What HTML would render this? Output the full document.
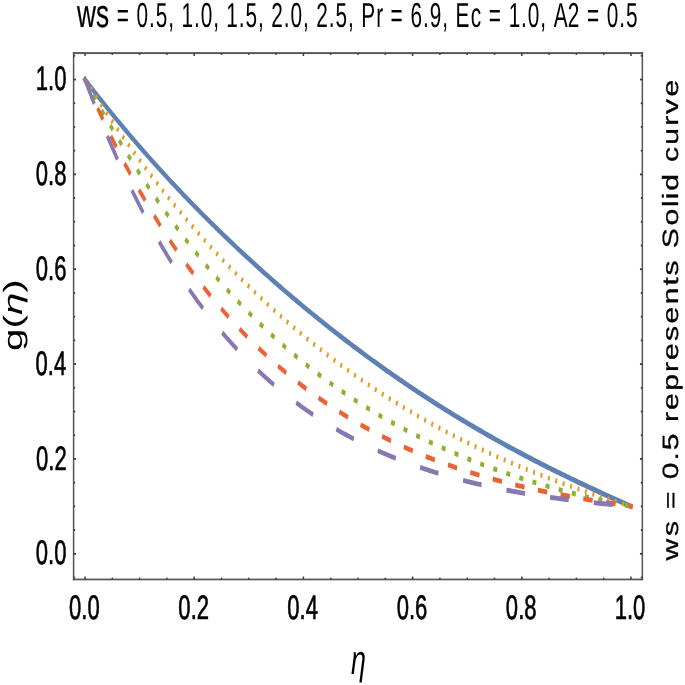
<!DOCTYPE html>
<html><head><meta charset="utf-8"><style>
html,body{margin:0;padding:0;background:#fff;}
body{width:685px;height:685px;overflow:hidden;}
svg{display:block;font-family:"Liberation Sans",sans-serif;filter:blur(0.4px);}
text{fill:#000;text-rendering:geometricPrecision;}
</style></head><body>
<svg width="685" height="685" viewBox="0 0 685 685">
<rect width="685" height="685" fill="#fff"/>
<g transform="scale(1,1.4956)">
<path d="M85.00,53.16 L86.36,54.35 87.73,55.55 89.09,56.74 90.46,57.92 91.83,59.11 93.19,60.28 94.56,61.46 95.92,62.63 97.28,63.79 98.65,64.95 100.02,66.11 101.38,67.26 102.75,68.41 104.11,69.56 105.47,70.70 106.84,71.84 108.20,72.97 109.57,74.10 110.94,75.23 112.30,76.35 113.66,77.47 115.03,78.58 116.40,79.69 117.76,80.80 119.12,81.90 120.49,83.00 121.86,84.10 123.22,85.19 124.58,86.28 125.95,87.37 127.31,88.45 128.68,89.53 130.05,90.61 131.41,91.68 132.78,92.75 134.14,93.81 135.50,94.88 136.87,95.93 138.24,96.99 139.60,98.04 140.97,99.09 142.33,100.14 143.69,101.18 145.06,102.22 146.43,103.25 147.79,104.29 149.16,105.32 150.52,106.34 151.88,107.37 153.25,108.39 154.62,109.40 155.98,110.42 157.34,111.43 158.71,112.44 160.07,113.44 161.44,114.44 162.81,115.44 164.17,116.44 165.53,117.43 166.90,118.42 168.26,119.41 169.63,120.40 171.00,121.38 172.36,122.36 173.73,123.33 175.09,124.31 176.46,125.28 177.82,126.24 179.19,127.21 180.55,128.17 181.91,129.13 183.28,130.09 184.64,131.04 186.01,131.99 187.38,132.94 188.74,133.89 190.11,134.83 191.47,135.77 192.84,136.71 194.20,137.64 195.56,138.58 196.93,139.51 198.30,140.43 199.66,141.36 201.02,142.28 202.39,143.20 203.75,144.12 205.12,145.03 206.49,145.95 207.85,146.86 209.22,147.77 210.58,148.67 211.94,149.57 213.31,150.47 214.68,151.37 216.04,152.27 217.41,153.16 218.77,154.05 220.13,154.94 221.50,155.82 222.87,156.71 224.23,157.59 225.59,158.47 226.96,159.34 228.33,160.22 229.69,161.09 231.06,161.96 232.42,162.83 233.79,163.69 235.15,164.56 236.52,165.42 237.88,166.27 239.25,167.13 240.61,167.98 241.98,168.84 243.34,169.69 244.70,170.53 246.07,171.38 247.44,172.22 248.80,173.06 250.16,173.90 251.53,174.74 252.90,175.57 254.26,176.40 255.62,177.23 256.99,178.06 258.36,178.89 259.72,179.71 261.09,180.53 262.45,181.35 263.81,182.17 265.18,182.98 266.55,183.80 267.91,184.61 269.27,185.42 270.64,186.22 272.00,187.03 273.37,187.83 274.74,188.63 276.10,189.43 277.46,190.23 278.83,191.02 280.19,191.81 281.56,192.60 282.92,193.39 284.29,194.18 285.65,194.96 287.02,195.75 288.38,196.53 289.75,197.30 291.12,198.08 292.48,198.86 293.85,199.63 295.21,200.40 296.58,201.17 297.94,201.93 299.31,202.70 300.67,203.46 302.04,204.22 303.40,204.98 304.76,205.74 306.13,206.49 307.50,207.25 308.86,208.00 310.23,208.75 311.59,209.50 312.95,210.24 314.32,210.98 315.69,211.73 317.05,212.47 318.41,213.20 319.78,213.94 321.14,214.67 322.51,215.41 323.88,216.14 325.24,216.86 326.61,217.59 327.97,218.32 329.34,219.04 330.70,219.76 332.06,220.48 333.43,221.20 334.80,221.91 336.16,222.62 337.52,223.34 338.89,224.05 340.25,224.75 341.62,225.46 342.99,226.16 344.35,226.87 345.72,227.57 347.08,228.27 348.44,228.96 349.81,229.66 351.18,230.35 352.54,231.04 353.90,231.73 355.27,232.42 356.63,233.11 358.00,233.79 359.37,234.47 360.73,235.15 362.10,235.83 363.46,236.51 364.82,237.18 366.19,237.86 367.55,238.53 368.92,239.20 370.28,239.87 371.65,240.53 373.01,241.20 374.38,241.86 375.75,242.52 377.11,243.18 378.47,243.84 379.84,244.49 381.20,245.15 382.57,245.80 383.94,246.45 385.30,247.10 386.67,247.74 388.03,248.39 389.39,249.03 390.76,249.67 392.12,250.31 393.49,250.95 394.86,251.59 396.22,252.22 397.58,252.85 398.95,253.48 400.31,254.11 401.68,254.74 403.05,255.37 404.41,255.99 405.78,256.61 407.14,257.23 408.50,257.85 409.87,258.47 411.24,259.08 412.60,259.70 413.97,260.31 415.33,260.92 416.70,261.52 418.06,262.13 419.43,262.74 420.79,263.34 422.16,263.94 423.52,264.54 424.89,265.14 426.25,265.73 427.62,266.33 428.98,266.92 430.35,267.51 431.71,268.10 433.08,268.69 434.44,269.27 435.80,269.86 437.17,270.44 438.53,271.02 439.90,271.60 441.26,272.18 442.63,272.75 444.00,273.33 445.36,273.90 446.72,274.47 448.09,275.04 449.45,275.61 450.82,276.17 452.19,276.74 453.55,277.30 454.92,277.86 456.28,278.42 457.64,278.98 459.01,279.53 460.38,280.09 461.74,280.64 463.11,281.19 464.47,281.74 465.83,282.29 467.20,282.84 468.56,283.38 469.93,283.92 471.30,284.46 472.66,285.00 474.03,285.54 475.39,286.08 476.75,286.61 478.12,287.15 479.49,287.68 480.85,288.21 482.22,288.74 483.58,289.26 484.95,289.79 486.31,290.31 487.68,290.84 489.04,291.36 490.41,291.88 491.77,292.39 493.14,292.91 494.50,293.42 495.87,293.94 497.23,294.45 498.60,294.96 499.96,295.47 501.33,295.97 502.69,296.48 504.06,296.98 505.42,297.49 506.78,297.99 508.15,298.49 509.51,298.99 510.88,299.48 512.25,299.98 513.61,300.47 514.97,300.96 516.34,301.46 517.70,301.94 519.07,302.43 520.43,302.92 521.80,303.41 523.16,303.89 524.53,304.37 525.89,304.85 527.26,305.33 528.62,305.81 529.99,306.29 531.36,306.76 532.72,307.24 534.09,307.71 535.45,308.18 536.82,308.65 538.18,309.12 539.55,309.59 540.91,310.06 542.28,310.52 543.64,310.99 545.00,311.45 546.37,311.91 547.74,312.37 549.10,312.83 550.47,313.29 551.83,313.74 553.20,314.20 554.56,314.65 555.92,315.11 557.29,315.56 558.65,316.01 560.02,316.46 561.38,316.91 562.75,317.35 564.12,317.80 565.48,318.25 566.85,318.69 568.21,319.13 569.58,319.57 570.94,320.02 572.31,320.46 573.67,320.89 575.03,321.33 576.40,321.77 577.76,322.20 579.13,322.64 580.50,323.07 581.86,323.50 583.22,323.94 584.59,324.37 585.95,324.80 587.32,325.23 588.68,325.65 590.05,326.08 591.41,326.51 592.78,326.93 594.14,327.36 595.51,327.78 596.88,328.21 598.24,328.63 599.61,329.05 600.97,329.47 602.34,329.89 603.70,330.31 605.07,330.73 606.43,331.15 607.79,331.56 609.16,331.98 610.52,332.40 611.89,332.81 613.25,333.23 614.62,333.64 615.99,334.06 617.35,334.47 618.72,334.88 620.08,335.29 621.45,335.70 622.81,336.12 624.18,336.53 625.54,336.94 626.90,337.35 628.27,337.76 629.63,338.16 631.00,338.57" fill="none" stroke="#5E81B5" stroke-width="3.50" stroke-linecap="square"/>
<path d="M83.94,52.02 L85.25,53.42 86.56,54.82 87.86,56.21 89.17,57.60 90.47,58.98 91.78,60.35 93.09,61.72 94.39,63.08 95.70,64.44 97.01,65.79 98.31,67.14 99.62,68.48 100.92,69.82 102.23,71.15 103.54,72.47 104.84,73.79 106.15,75.11 107.45,76.41 108.76,77.72 110.07,79.02 111.37,80.31 112.68,81.60 113.98,82.88 115.29,84.16 116.60,85.43 117.90,86.70 119.21,87.97 120.52,89.22 121.82,90.48 123.13,91.72 124.43,92.97 125.74,94.21 127.05,95.44 128.35,96.67 129.66,97.89 130.96,99.11 132.27,100.32 133.58,101.53 134.88,102.73 136.19,103.93 137.50,105.13 138.80,106.32 140.11,107.50 141.41,108.68 142.72,109.86 144.03,111.03 145.33,112.20 146.64,113.36 147.94,114.52 149.25,115.67 150.56,116.82 151.86,117.96 153.17,119.10 154.47,120.24 155.78,121.37 157.09,122.49 158.39,123.61 159.70,124.73 161.01,125.84 162.31,126.95 163.62,128.05 164.92,129.15 166.23,130.25 167.54,131.34 168.84,132.43 170.15,133.51 171.45,134.59 172.76,135.66 174.07,136.73 175.37,137.80 176.68,138.86 177.98,139.92 179.29,140.97 180.60,142.02 181.90,143.06 183.21,144.10 184.52,145.14 185.82,146.17 187.13,147.20 188.43,148.23 189.74,149.25 191.05,150.26 192.35,151.28 193.66,152.28 194.96,153.29 196.27,154.29 197.58,155.29 198.88,156.28 200.19,157.27 201.50,158.26 202.80,159.24 204.11,160.21 205.41,161.19 206.72,162.16 208.03,163.13 209.33,164.09 210.64,165.05 211.94,166.00 213.25,166.95 214.56,167.90 215.86,168.85 217.17,169.79 218.47,170.72 219.78,171.66 221.09,172.59 222.39,173.51 223.70,174.43 225.01,175.35 226.31,176.27 227.62,177.18 228.92,178.09 230.23,178.99 231.54,179.89 232.84,180.79 234.15,181.69 235.45,182.58 236.76,183.46 238.07,184.35 239.37,185.23 240.68,186.10 241.99,186.98 243.29,187.85 244.60,188.71 245.90,189.58 247.21,190.44 248.52,191.29 249.82,192.15 251.13,193.00 252.43,193.84 253.74,194.69 255.05,195.53 256.35,196.37 257.66,197.20 258.96,198.03 260.27,198.86 261.58,199.68 262.88,200.50 264.19,201.32 265.50,202.13 266.80,202.94 268.11,203.75 269.41,204.56 270.72,205.36 272.03,206.16 273.33,206.95 274.64,207.75 275.94,208.54 277.25,209.32 278.56,210.11 279.86,210.89 281.17,211.66 282.48,212.44 283.78,213.21 285.09,213.98 286.39,214.74 287.70,215.50 289.01,216.26 290.31,217.02 291.62,217.77 292.92,218.52 294.23,219.27 295.54,220.02 296.84,220.76 298.15,221.50 299.45,222.23 300.76,222.96 302.07,223.69 303.37,224.42 304.68,225.15 305.99,225.87 307.29,226.59 308.60,227.30 309.90,228.01 311.21,228.72 312.52,229.43 313.82,230.14 315.13,230.84 316.43,231.54 317.74,232.23 319.05,232.93 320.35,233.62 321.66,234.31 322.97,234.99 324.27,235.67 325.58,236.35 326.88,237.03 328.19,237.71 329.50,238.38 330.80,239.05 332.11,239.71 333.41,240.38 334.72,241.04 336.03,241.70 337.33,242.35 338.64,243.01 339.94,243.66 341.25,244.31 342.56,244.95 343.86,245.60 345.17,246.24 346.48,246.87 347.78,247.51 349.09,248.14 350.39,248.77 351.70,249.40 353.01,250.03 354.31,250.65 355.62,251.27 356.92,251.89 358.23,252.50 359.54,253.12 360.84,253.73 362.15,254.33 363.46,254.94 364.76,255.54 366.07,256.14 367.37,256.74 368.68,257.34 369.99,257.93 371.29,258.52 372.60,259.11 373.90,259.70 375.21,260.28 376.52,260.86 377.82,261.44 379.13,262.02 380.43,262.59 381.74,263.17 383.05,263.74 384.35,264.30 385.66,264.87 386.97,265.43 388.27,265.99 389.58,266.55 390.88,267.11 392.19,267.66 393.50,268.21 394.80,268.76 396.11,269.31 397.41,269.85 398.72,270.39 400.03,270.93 401.33,271.47 402.64,272.01 403.95,272.54 405.25,273.07 406.56,273.60 407.86,274.13 409.17,274.65 410.48,275.18 411.78,275.70 413.09,276.21 414.39,276.73 415.70,277.24 417.01,277.76 418.31,278.27 419.62,278.77 420.92,279.28 422.23,279.78 423.54,280.28 424.84,280.78 426.15,281.28 427.46,281.78 428.76,282.27 430.07,282.76 431.37,283.25 432.68,283.74 433.99,284.22 435.29,284.70 436.60,285.18 437.90,285.66 439.21,286.14 440.52,286.61 441.82,287.09 443.13,287.56 444.44,288.03 445.74,288.49 447.05,288.96 448.35,289.42 449.66,289.88 450.97,290.34 452.27,290.80 453.58,291.25 454.88,291.71 456.19,292.16 457.50,292.61 458.80,293.05 460.11,293.50 461.41,293.94 462.72,294.38 464.03,294.82 465.33,295.26 466.64,295.70 467.95,296.13 469.25,296.57 470.56,297.00 471.86,297.42 473.17,297.85 474.48,298.28 475.78,298.70 477.09,299.12 478.39,299.54 479.70,299.96 481.01,300.38 482.31,300.79 483.62,301.20 484.93,301.61 486.23,302.02 487.54,302.43 488.84,302.84 490.15,303.24 491.46,303.64 492.76,304.04 494.07,304.44 495.37,304.84 496.68,305.24 497.99,305.63 499.29,306.02 500.60,306.41 501.90,306.80 503.21,307.19 504.52,307.57 505.82,307.96 507.13,308.34 508.44,308.72 509.74,309.10 511.05,309.48 512.35,309.85 513.66,310.23 514.97,310.60 516.27,310.97 517.58,311.34 518.88,311.71 520.19,312.08 521.50,312.44 522.80,312.81 524.11,313.17 525.42,313.53 526.72,313.89 528.03,314.25 529.33,314.60 530.64,314.96 531.95,315.31 533.25,315.66 534.56,316.01 535.86,316.36 537.17,316.71 538.48,317.05 539.78,317.40 541.09,317.74 542.39,318.08 543.70,318.43 545.01,318.76 546.31,319.10 547.62,319.44 548.93,319.77 550.23,320.11 551.54,320.44 552.84,320.77 554.15,321.10 555.46,321.43 556.76,321.76 558.07,322.08 559.37,322.41 560.68,322.73 561.99,323.05 563.29,323.37 564.60,323.69 565.91,324.01 567.21,324.33 568.52,324.65 569.82,324.96 571.13,325.27 572.44,325.59 573.74,325.90 575.05,326.21 576.35,326.52 577.66,326.83 578.97,327.13 580.27,327.44 581.58,327.74 582.88,328.05 584.19,328.35 585.50,328.65 586.80,328.95 588.11,329.25 589.42,329.55 590.72,329.85 592.03,330.14 593.33,330.44 594.64,330.73 595.95,331.02 597.25,331.32 598.56,331.61 599.86,331.90 601.17,332.19 602.48,332.48 603.78,332.76 605.09,333.05 606.40,333.34 607.70,333.62 609.01,333.91 610.31,334.19 611.62,334.47 612.93,334.75 614.23,335.03 615.54,335.31 616.84,335.59 618.15,335.87 619.46,336.15 620.76,336.43 622.07,336.70 623.37,336.98 624.68,337.25 625.99,337.53 627.29,337.80 628.60,338.07 629.91,338.35 631.21,338.62 632.52,338.89" fill="none" stroke="#E19C24" stroke-width="3.25" stroke-dasharray="3.55 5.63 2.00 5.63 2.00 5.63 2.00 5.63 2.00 5.63 2.00 5.63 2.00 5.63 2.00 5.63 2.00 5.63 2.00 5.63 2.00 5.63 2.00 5.63 2.00 5.63 2.00 5.63 2.00 5.63 2.00 5.63 2.00 5.63 2.00 5.63 2.00 5.63 2.00 5.63 2.00 5.63 2.00 5.63 2.00 5.63 2.00 5.63 2.00 5.63 2.00 5.63 2.00 5.63 2.00 5.63 2.00 5.63 2.00 5.63 2.00 5.63 2.00 5.63 2.00 5.63 2.00 5.63 2.00 5.63 2.00 5.63 2.00 5.63 2.00 5.63 2.00 5.63 2.00 5.63 2.00 5.63 2.00 5.63 2.00 5.63 2.00 5.63 2.00 5.63 2.00 5.63 2.00 5.63 2.00 5.63 2.00 5.63 2.00 5.63 2.00 5.63 2.00 5.63 2.00 5.63 2.00 5.63 2.00 5.63 2.00 5.63 2.00 5.63 2.00 5.63 2.00 5.63 2.00 5.63 2.00 5.63 2.00 5.63 2.00 5.63 2.00 5.63 2.00 5.63 2.00 5.63 2.00 5.63 2.00 5.63 2.00 5.63 2.00 5.63 2.00 5.63 2.00 5.63 2.00 5.63 2.00 5.63 2.00 5.63 2.00 5.63 2.00 5.63 2.00 5.63 2.00 5.63 2.00 5.63 2.00 5.63 2.00 5.63 2.93 50.00"/>
<path d="M84.04,51.94 L85.35,53.60 86.65,55.25 87.96,56.89 89.26,58.52 90.57,60.15 91.88,61.77 93.18,63.38 94.49,64.99 95.79,66.58 97.10,68.17 98.41,69.76 99.71,71.33 101.02,72.90 102.32,74.46 103.63,76.02 104.94,77.56 106.24,79.10 107.55,80.64 108.85,82.16 110.16,83.68 111.47,85.19 112.77,86.69 114.08,88.19 115.38,89.68 116.69,91.16 118.00,92.64 119.30,94.11 120.61,95.57 121.91,97.02 123.22,98.47 124.53,99.91 125.83,101.35 127.14,102.78 128.44,104.20 129.75,105.61 131.06,107.02 132.36,108.42 133.67,109.81 134.97,111.20 136.28,112.58 137.58,113.95 138.89,115.32 140.20,116.68 141.50,118.04 142.81,119.38 144.11,120.72 145.42,122.06 146.73,123.39 148.03,124.71 149.34,126.02 150.64,127.33 151.95,128.63 153.26,129.93 154.56,131.22 155.87,132.50 157.17,133.78 158.48,135.05 159.79,136.32 161.09,137.57 162.40,138.83 163.70,140.07 165.01,141.31 166.32,142.55 167.62,143.77 168.93,145.00 170.23,146.21 171.54,147.42 172.85,148.62 174.15,149.82 175.46,151.01 176.76,152.20 178.07,153.38 179.37,154.55 180.68,155.72 181.99,156.88 183.29,158.04 184.60,159.19 185.90,160.33 187.21,161.47 188.52,162.60 189.82,163.73 191.13,164.85 192.43,165.97 193.74,167.08 195.05,168.18 196.35,169.28 197.66,170.37 198.96,171.46 200.27,172.54 201.58,173.62 202.88,174.69 204.19,175.76 205.49,176.82 206.80,177.87 208.11,178.92 209.41,179.96 210.72,181.00 212.02,182.04 213.33,183.06 214.64,184.09 215.94,185.10 217.25,186.12 218.55,187.12 219.86,188.12 221.17,189.12 222.47,190.11 223.78,191.10 225.08,192.08 226.39,193.05 227.69,194.03 229.00,194.99 230.31,195.95 231.61,196.91 232.92,197.86 234.22,198.80 235.53,199.74 236.84,200.68 238.14,201.61 239.45,202.54 240.75,203.46 242.06,204.37 243.37,205.28 244.67,206.19 245.98,207.09 247.28,207.99 248.59,208.88 249.90,209.77 251.20,210.65 252.51,211.53 253.81,212.40 255.12,213.27 256.43,214.14 257.73,215.00 259.04,215.85 260.34,216.70 261.65,217.55 262.96,218.39 264.26,219.23 265.57,220.06 266.87,220.89 268.18,221.71 269.49,222.53 270.79,223.34 272.10,224.15 273.40,224.96 274.71,225.76 276.01,226.56 277.32,227.35 278.63,228.14 279.93,228.92 281.24,229.70 282.54,230.48 283.85,231.25 285.16,232.02 286.46,232.78 287.77,233.54 289.07,234.30 290.38,235.05 291.69,235.80 292.99,236.54 294.30,237.28 295.60,238.01 296.91,238.75 298.22,239.47 299.52,240.20 300.83,240.91 302.13,241.63 303.44,242.34 304.75,243.05 306.05,243.75 307.36,244.45 308.66,245.15 309.97,245.84 311.28,246.53 312.58,247.21 313.89,247.89 315.19,248.57 316.50,249.24 317.81,249.91 319.11,250.58 320.42,251.24 321.72,251.90 323.03,252.56 324.33,253.21 325.64,253.86 326.95,254.50 328.25,255.14 329.56,255.78 330.86,256.41 332.17,257.04 333.48,257.67 334.78,258.29 336.09,258.91 337.39,259.53 338.70,260.14 340.01,260.75 341.31,261.36 342.62,261.96 343.92,262.56 345.23,263.16 346.54,263.75 347.84,264.34 349.15,264.93 350.45,265.51 351.76,266.09 353.07,266.67 354.37,267.25 355.68,267.82 356.98,268.38 358.29,268.95 359.60,269.51 360.90,270.07 362.21,270.62 363.51,271.17 364.82,271.72 366.12,272.27 367.43,272.81 368.74,273.35 370.04,273.89 371.35,274.42 372.65,274.96 373.96,275.48 375.27,276.01 376.57,276.53 377.88,277.05 379.18,277.57 380.49,278.08 381.80,278.59 383.10,279.10 384.41,279.61 385.71,280.11 387.02,280.61 388.33,281.11 389.63,281.60 390.94,282.09 392.24,282.58 393.55,283.07 394.86,283.55 396.16,284.03 397.47,284.51 398.77,284.98 400.08,285.46 401.39,285.93 402.69,286.39 404.00,286.86 405.30,287.32 406.61,287.78 407.92,288.24 409.22,288.70 410.53,289.15 411.83,289.60 413.14,290.05 414.44,290.49 415.75,290.93 417.06,291.37 418.36,291.81 419.67,292.25 420.97,292.68 422.28,293.11 423.59,293.54 424.89,293.96 426.20,294.39 427.50,294.81 428.81,295.23 430.12,295.64 431.42,296.06 432.73,296.47 434.03,296.88 435.34,297.29 436.65,297.69 437.95,298.10 439.26,298.50 440.56,298.90 441.87,299.29 443.18,299.69 444.48,300.08 445.79,300.47 447.09,300.86 448.40,301.24 449.71,301.63 451.01,302.01 452.32,302.39 453.62,302.77 454.93,303.14 456.24,303.52 457.54,303.89 458.85,304.26 460.15,304.62 461.46,304.99 462.76,305.35 464.07,305.71 465.38,306.07 466.68,306.43 467.99,306.79 469.29,307.14 470.60,307.49 471.91,307.84 473.21,308.19 474.52,308.54 475.82,308.88 477.13,309.22 478.44,309.56 479.74,309.90 481.05,310.24 482.35,310.57 483.66,310.91 484.97,311.24 486.27,311.57 487.58,311.89 488.88,312.22 490.19,312.54 491.50,312.87 492.80,313.19 494.11,313.51 495.41,313.82 496.72,314.14 498.03,314.45 499.33,314.76 500.64,315.08 501.94,315.38 503.25,315.69 504.56,316.00 505.86,316.30 507.17,316.60 508.47,316.90 509.78,317.20 511.08,317.50 512.39,317.79 513.70,318.09 515.00,318.38 516.31,318.67 517.61,318.96 518.92,319.25 520.23,319.53 521.53,319.82 522.84,320.10 524.14,320.38 525.45,320.66 526.76,320.94 528.06,321.21 529.37,321.49 530.67,321.76 531.98,322.04 533.29,322.31 534.59,322.57 535.90,322.84 537.20,323.11 538.51,323.37 539.82,323.64 541.12,323.90 542.43,324.16 543.73,324.42 545.04,324.67 546.35,324.93 547.65,325.18 548.96,325.44 550.26,325.69 551.57,325.94 552.87,326.19 554.18,326.43 555.49,326.68 556.79,326.92 558.10,327.17 559.40,327.41 560.71,327.65 562.02,327.89 563.32,328.12 564.63,328.36 565.93,328.59 567.24,328.83 568.55,329.06 569.85,329.29 571.16,329.52 572.46,329.75 573.77,329.97 575.08,330.20 576.38,330.42 577.69,330.64 578.99,330.86 580.30,331.08 581.61,331.30 582.91,331.52 584.22,331.73 585.52,331.95 586.83,332.16 588.14,332.37 589.44,332.58 590.75,332.79 592.05,333.00 593.36,333.20 594.67,333.41 595.97,333.61 597.28,333.81 598.58,334.01 599.89,334.21 601.19,334.41 602.50,334.61 603.81,334.80 605.11,335.00 606.42,335.19 607.72,335.38 609.03,335.57 610.34,335.76 611.64,335.95 612.95,336.14 614.25,336.32 615.56,336.50 616.87,336.69 618.17,336.87 619.48,337.05 620.78,337.22 622.09,337.40 623.40,337.58 624.70,337.75 626.01,337.92 627.31,338.10 628.62,338.27 629.93,338.44 631.23,338.60 632.54,338.77" fill="none" stroke="#8FB032" stroke-width="3.25" stroke-dasharray="5.15 9.37 4.00 9.37 4.00 9.37 4.00 9.37 4.00 9.37 4.00 9.37 4.00 9.37 4.00 9.37 4.00 9.37 4.00 9.37 4.00 9.37 4.00 9.37 4.00 9.37 4.00 9.37 4.00 9.37 4.00 9.37 4.00 9.37 4.00 9.37 4.00 9.37 4.00 9.37 4.00 9.37 4.00 9.37 4.00 9.37 4.00 9.37 4.00 9.37 4.00 9.37 4.00 9.37 4.00 9.37 4.00 9.37 4.00 9.37 4.00 9.37 4.00 9.37 4.00 9.37 4.00 9.37 4.00 9.37 4.00 9.37 4.00 9.37 4.00 9.37 4.00 9.37 4.00 9.37 4.00 9.37 4.00 9.37 4.00 9.37 4.00 9.37 4.00 9.37 4.00 9.37 4.00 9.37 4.00 54.10"/>
<path d="M84.17,51.85 L85.47,53.89 86.78,55.93 88.08,57.94 89.39,59.95 90.69,61.94 92.00,63.92 93.31,65.88 94.61,67.83 95.92,69.77 97.22,71.69 98.53,73.61 99.83,75.51 101.14,77.39 102.45,79.27 103.75,81.13 105.06,82.97 106.36,84.81 107.67,86.63 108.97,88.45 110.28,90.25 111.59,92.03 112.89,93.81 114.20,95.57 115.50,97.32 116.81,99.06 118.11,100.79 119.42,102.51 120.73,104.21 122.03,105.90 123.34,107.59 124.64,109.26 125.95,110.92 127.25,112.56 128.56,114.20 129.86,115.83 131.17,117.44 132.48,119.05 133.78,120.64 135.09,122.22 136.39,123.80 137.70,125.36 139.00,126.91 140.31,128.45 141.62,129.98 142.92,131.50 144.23,133.01 145.53,134.51 146.84,136.00 148.14,137.48 149.45,138.95 150.76,140.41 152.06,141.86 153.37,143.30 154.67,144.73 155.98,146.15 157.28,147.56 158.59,148.97 159.89,150.36 161.20,151.74 162.51,153.12 163.81,154.48 165.12,155.84 166.42,157.18 167.73,158.52 169.03,159.85 170.34,161.17 171.65,162.48 172.95,163.78 174.26,165.08 175.56,166.36 176.87,167.64 178.17,168.91 179.48,170.17 180.79,171.42 182.09,172.66 183.40,173.90 184.70,175.12 186.01,176.34 187.31,177.55 188.62,178.75 189.92,179.95 191.23,181.13 192.54,182.31 193.84,183.48 195.15,184.64 196.45,185.80 197.76,186.94 199.06,188.08 200.37,189.21 201.68,190.34 202.98,191.46 204.29,192.57 205.59,193.67 206.90,194.76 208.20,195.85 209.51,196.93 210.82,198.00 212.12,199.07 213.43,200.13 214.73,201.18 216.04,202.22 217.34,203.26 218.65,204.29 219.95,205.32 221.26,206.33 222.57,207.34 223.87,208.35 225.18,209.35 226.48,210.34 227.79,211.32 229.09,212.30 230.40,213.27 231.71,214.23 233.01,215.19 234.32,216.15 235.62,217.09 236.93,218.03 238.23,218.96 239.54,219.89 240.85,220.81 242.15,221.73 243.46,222.64 244.76,223.54 246.07,224.44 247.37,225.33 248.68,226.21 249.98,227.09 251.29,227.97 252.60,228.83 253.90,229.70 255.21,230.55 256.51,231.40 257.82,232.25 259.12,233.09 260.43,233.92 261.74,234.75 263.04,235.57 264.35,236.39 265.65,237.20 266.96,238.01 268.26,238.81 269.57,239.61 270.88,240.40 272.18,241.19 273.49,241.97 274.79,242.74 276.10,243.51 277.40,244.28 278.71,245.04 280.01,245.80 281.32,246.55 282.63,247.29 283.93,248.03 285.24,248.77 286.54,249.50 287.85,250.23 289.15,250.95 290.46,251.66 291.77,252.38 293.07,253.08 294.38,253.79 295.68,254.49 296.99,255.18 298.29,255.87 299.60,256.55 300.91,257.23 302.21,257.91 303.52,258.58 304.82,259.25 306.13,259.91 307.43,260.57 308.74,261.22 310.05,261.87 311.35,262.51 312.66,263.15 313.96,263.79 315.27,264.42 316.57,265.05 317.88,265.68 319.18,266.30 320.49,266.91 321.80,267.52 323.10,268.13 324.41,268.74 325.71,269.34 327.02,269.93 328.32,270.52 329.63,271.11 330.94,271.70 332.24,272.28 333.55,272.85 334.85,273.42 336.16,273.99 337.46,274.56 338.77,275.12 340.08,275.68 341.38,276.23 342.69,276.78 343.99,277.33 345.30,277.87 346.60,278.41 347.91,278.95 349.21,279.48 350.52,280.01 351.83,280.53 353.13,281.05 354.44,281.57 355.74,282.09 357.05,282.60 358.35,283.11 359.66,283.61 360.97,284.11 362.27,284.61 363.58,285.10 364.88,285.59 366.19,286.08 367.49,286.57 368.80,287.05 370.11,287.53 371.41,288.00 372.72,288.47 374.02,288.94 375.33,289.41 376.63,289.87 377.94,290.33 379.24,290.78 380.55,291.24 381.86,291.68 383.16,292.13 384.47,292.57 385.77,293.02 387.08,293.45 388.38,293.89 389.69,294.32 391.00,294.75 392.30,295.17 393.61,295.60 394.91,296.02 396.22,296.43 397.52,296.85 398.83,297.26 400.14,297.67 401.44,298.07 402.75,298.47 404.05,298.87 405.36,299.27 406.66,299.67 407.97,300.06 409.27,300.45 410.58,300.83 411.89,301.22 413.19,301.60 414.50,301.98 415.80,302.35 417.11,302.72 418.41,303.09 419.72,303.46 421.03,303.83 422.33,304.19 423.64,304.55 424.94,304.91 426.25,305.26 427.55,305.61 428.86,305.96 430.17,306.31 431.47,306.66 432.78,307.00 434.08,307.34 435.39,307.68 436.69,308.01 438.00,308.34 439.30,308.67 440.61,309.00 441.92,309.33 443.22,309.65 444.53,309.97 445.83,310.29 447.14,310.61 448.44,310.92 449.75,311.23 451.06,311.54 452.36,311.85 453.67,312.15 454.97,312.46 456.28,312.76 457.58,313.06 458.89,313.35 460.20,313.65 461.50,313.94 462.81,314.23 464.11,314.51 465.42,314.80 466.72,315.08 468.03,315.36 469.33,315.64 470.64,315.92 471.95,316.19 473.25,316.47 474.56,316.74 475.86,317.01 477.17,317.27 478.47,317.54 479.78,317.80 481.09,318.06 482.39,318.32 483.70,318.58 485.00,318.83 486.31,319.09 487.61,319.34 488.92,319.59 490.23,319.83 491.53,320.08 492.84,320.32 494.14,320.56 495.45,320.80 496.75,321.04 498.06,321.28 499.37,321.51 500.67,321.75 501.98,321.98 503.28,322.21 504.59,322.43 505.89,322.66 507.20,322.88 508.50,323.11 509.81,323.33 511.12,323.55 512.42,323.76 513.73,323.98 515.03,324.19 516.34,324.41 517.64,324.62 518.95,324.83 520.26,325.03 521.56,325.24 522.87,325.44 524.17,325.65 525.48,325.85 526.78,326.05 528.09,326.25 529.40,326.45 530.70,326.64 532.01,326.84 533.31,327.03 534.62,327.22 535.92,327.41 537.23,327.60 538.53,327.79 539.84,327.97 541.15,328.16 542.45,328.34 543.76,328.52 545.06,328.70 546.37,328.88 547.67,329.06 548.98,329.24 550.29,329.41 551.59,329.59 552.90,329.76 554.20,329.93 555.51,330.10 556.81,330.27 558.12,330.44 559.43,330.61 560.73,330.77 562.04,330.94 563.34,331.10 564.65,331.26 565.95,331.43 567.26,331.59 568.56,331.75 569.87,331.91 571.18,332.06 572.48,332.22 573.79,332.38 575.09,332.53 576.40,332.69 577.70,332.84 579.01,332.99 580.32,333.14 581.62,333.29 582.93,333.44 584.23,333.59 585.54,333.74 586.84,333.89 588.15,334.04 589.46,334.18 590.76,334.33 592.07,334.47 593.37,334.62 594.68,334.76 595.98,334.90 597.29,335.04 598.59,335.19 599.90,335.33 601.21,335.47 602.51,335.61 603.82,335.75 605.12,335.89 606.43,336.02 607.73,336.16 609.04,336.30 610.35,336.44 611.65,336.57 612.96,336.71 614.26,336.85 615.57,336.98 616.87,337.12 618.18,337.25 619.49,337.39 620.79,337.52 622.10,337.66 623.40,337.79 624.71,337.93 626.01,338.06 627.32,338.20 628.62,338.33 629.93,338.46 631.24,338.60 632.54,338.73" fill="none" stroke="#EB6235" stroke-width="3.25" stroke-dasharray="10.95 13.48 9.40 13.48 9.40 13.48 9.40 13.48 9.40 13.48 9.40 13.48 9.40 13.48 9.40 13.48 9.40 13.48 9.40 13.48 9.40 13.48 9.40 13.48 9.40 13.48 9.40 13.48 9.40 13.48 9.40 13.48 9.40 13.48 9.40 13.48 9.40 13.48 9.40 13.48 9.40 13.48 9.40 13.48 9.40 13.48 9.40 13.48 9.40 13.48 9.40 13.48 9.40 13.48 9.40 13.48 3.69 50.00"/>
<path d="M84.25,51.80 L85.56,54.16 86.86,56.50 88.17,58.83 89.47,61.14 90.78,63.43 92.08,65.70 93.39,67.95 94.69,70.19 96.00,72.41 97.31,74.61 98.61,76.80 99.92,78.97 101.22,81.12 102.53,83.26 103.83,85.38 105.14,87.48 106.44,89.57 107.75,91.64 109.05,93.70 110.36,95.74 111.67,97.76 112.97,99.77 114.28,101.76 115.58,103.74 116.89,105.70 118.19,107.65 119.50,109.58 120.80,111.50 122.11,113.40 123.41,115.28 124.72,117.16 126.03,119.01 127.33,120.86 128.64,122.68 129.94,124.50 131.25,126.30 132.55,128.09 133.86,129.86 135.16,131.62 136.47,133.36 137.78,135.09 139.08,136.81 140.39,138.51 141.69,140.20 143.00,141.88 144.30,143.55 145.61,145.20 146.91,146.84 148.22,148.46 149.52,150.07 150.83,151.67 152.14,153.26 153.44,154.84 154.75,156.40 156.05,157.95 157.36,159.49 158.66,161.01 159.97,162.53 161.27,164.03 162.58,165.52 163.88,167.00 165.19,168.46 166.50,169.92 167.80,171.36 169.11,172.79 170.41,174.21 171.72,175.62 173.02,177.02 174.33,178.41 175.63,179.78 176.94,181.15 178.24,182.50 179.55,183.85 180.86,185.18 182.16,186.50 183.47,187.82 184.77,189.12 186.08,190.41 187.38,191.69 188.69,192.96 189.99,194.22 191.30,195.47 192.60,196.71 193.91,197.94 195.22,199.16 196.52,200.38 197.83,201.58 199.13,202.77 200.44,203.95 201.74,205.13 203.05,206.29 204.35,207.44 205.66,208.59 206.96,209.73 208.27,210.85 209.58,211.97 210.88,213.08 212.19,214.18 213.49,215.27 214.80,216.35 216.10,217.43 217.41,218.49 218.71,219.55 220.02,220.60 221.32,221.64 222.63,222.67 223.94,223.70 225.24,224.71 226.55,225.72 227.85,226.72 229.16,227.71 230.46,228.69 231.77,229.67 233.07,230.64 234.38,231.60 235.69,232.55 236.99,233.49 238.30,234.43 239.60,235.36 240.91,236.28 242.21,237.20 243.52,238.10 244.82,239.00 246.13,239.90 247.43,240.78 248.74,241.66 250.05,242.53 251.35,243.40 252.66,244.26 253.96,245.11 255.27,245.95 256.57,246.79 257.88,247.62 259.18,248.44 260.49,249.26 261.79,250.07 263.10,250.88 264.41,251.67 265.71,252.46 267.02,253.25 268.32,254.03 269.63,254.80 270.93,255.57 272.24,256.33 273.54,257.08 274.85,257.83 276.15,258.57 277.46,259.31 278.77,260.04 280.07,260.76 281.38,261.48 282.68,262.19 283.99,262.90 285.29,263.60 286.60,264.30 287.90,264.99 289.21,265.67 290.51,266.35 291.82,267.03 293.13,267.69 294.43,268.36 295.74,269.01 297.04,269.67 298.35,270.31 299.65,270.96 300.96,271.59 302.26,272.22 303.57,272.85 304.87,273.47 306.18,274.09 307.49,274.70 308.79,275.31 310.10,275.91 311.40,276.51 312.71,277.10 314.01,277.69 315.32,278.27 316.62,278.85 317.93,279.42 319.23,279.99 320.54,280.55 321.85,281.11 323.15,281.67 324.46,282.22 325.76,282.77 327.07,283.31 328.37,283.85 329.68,284.38 330.98,284.91 332.29,285.43 333.60,285.95 334.90,286.47 336.21,286.98 337.51,287.49 338.82,287.99 340.12,288.49 341.43,288.99 342.73,289.48 344.04,289.97 345.34,290.45 346.65,290.93 347.96,291.41 349.26,291.88 350.57,292.35 351.87,292.82 353.18,293.28 354.48,293.73 355.79,294.19 357.09,294.64 358.40,295.08 359.70,295.53 361.01,295.97 362.32,296.40 363.62,296.83 364.93,297.26 366.23,297.69 367.54,298.11 368.84,298.53 370.15,298.94 371.45,299.35 372.76,299.76 374.06,300.17 375.37,300.57 376.68,300.97 377.98,301.36 379.29,301.75 380.59,302.14 381.90,302.53 383.20,302.91 384.51,303.29 385.81,303.67 387.12,304.04 388.42,304.41 389.73,304.78 391.04,305.14 392.34,305.50 393.65,305.86 394.95,306.22 396.26,306.57 397.56,306.92 398.87,307.26 400.17,307.61 401.48,307.95 402.78,308.29 404.09,308.62 405.40,308.95 406.70,309.28 408.01,309.61 409.31,309.94 410.62,310.26 411.92,310.58 413.23,310.89 414.53,311.21 415.84,311.52 417.14,311.82 418.45,312.13 419.76,312.43 421.06,312.73 422.37,313.03 423.67,313.33 424.98,313.62 426.28,313.91 427.59,314.20 428.89,314.49 430.20,314.77 431.51,315.05 432.81,315.33 434.12,315.61 435.42,315.88 436.73,316.15 438.03,316.42 439.34,316.69 440.64,316.95 441.95,317.22 443.25,317.48 444.56,317.74 445.87,317.99 447.17,318.25 448.48,318.50 449.78,318.75 451.09,318.99 452.39,319.24 453.70,319.48 455.00,319.72 456.31,319.96 457.61,320.20 458.92,320.43 460.23,320.67 461.53,320.90 462.84,321.13 464.14,321.35 465.45,321.58 466.75,321.80 468.06,322.02 469.36,322.24 470.67,322.46 471.97,322.67 473.28,322.88 474.59,323.10 475.89,323.30 477.20,323.51 478.50,323.72 479.81,323.92 481.11,324.12 482.42,324.32 483.72,324.52 485.03,324.72 486.33,324.91 487.64,325.11 488.95,325.30 490.25,325.49 491.56,325.67 492.86,325.86 494.17,326.05 495.47,326.23 496.78,326.41 498.08,326.59 499.39,326.77 500.69,326.94 502.00,327.12 503.31,327.29 504.61,327.46 505.92,327.63 507.22,327.80 508.53,327.97 509.83,328.13 511.14,328.30 512.44,328.46 513.75,328.62 515.06,328.78 516.36,328.94 517.67,329.09 518.97,329.25 520.28,329.40 521.58,329.55 522.89,329.70 524.19,329.85 525.50,330.00 526.80,330.15 528.11,330.29 529.42,330.43 530.72,330.58 532.03,330.72 533.33,330.86 534.64,331.00 535.94,331.13 537.25,331.27 538.55,331.40 539.86,331.54 541.16,331.67 542.47,331.80 543.78,331.93 545.08,332.06 546.39,332.19 547.69,332.31 549.00,332.44 550.30,332.56 551.61,332.68 552.91,332.81 554.22,332.93 555.52,333.05 556.83,333.16 558.14,333.28 559.44,333.40 560.75,333.51 562.05,333.63 563.36,333.74 564.66,333.85 565.97,333.96 567.27,334.07 568.58,334.18 569.88,334.29 571.19,334.40 572.50,334.50 573.80,334.61 575.11,334.71 576.41,334.82 577.72,334.92 579.02,335.02 580.33,335.12 581.63,335.22 582.94,335.32 584.24,335.42 585.55,335.52 586.86,335.62 588.16,335.71 589.47,335.81 590.77,335.91 592.08,336.00 593.38,336.09 594.69,336.19 595.99,336.28 597.30,336.37 598.60,336.46 599.91,336.55 601.22,336.64 602.52,336.73 603.83,336.82 605.13,336.91 606.44,337.00 607.74,337.08 609.05,337.17 610.35,337.26 611.66,337.34 612.97,337.43 614.27,337.51 615.58,337.60 616.88,337.68 618.19,337.77 619.49,337.85 620.80,337.93 622.10,338.02 623.41,338.10 624.71,338.18 626.02,338.26 627.33,338.34 628.63,338.43 629.94,338.51 631.24,338.59 632.55,338.67" fill="none" stroke="#8778B3" stroke-width="3.25" stroke-dasharray="20.31 25.10 18.76 25.10 18.76 25.10 18.76 25.10 18.76 25.10 18.76 25.10 18.76 25.10 18.76 25.10 18.76 25.10 18.76 25.10 18.76 25.10 18.76 25.10 18.76 25.10 18.76 25.10 18.76 70.09"/>
</g>
<rect x="72.85" y="52.15" width="570.25" height="1.90" fill="#545454"/>
<rect x="72.85" y="578.60" width="570.25" height="1.70" fill="#545454"/>
<rect x="72.85" y="52.15" width="1.50" height="528.15" fill="#545454"/>
<rect x="641.60" y="52.15" width="1.50" height="528.15" fill="#545454"/>
<rect x="84.25" y="576.55" width="1.5" height="2.90" fill="#3c3c3c"/>
<rect x="84.25" y="53.10" width="1.5" height="2.90" fill="#3c3c3c"/>
<rect x="111.55" y="577.65" width="1.5" height="1.80" fill="#3c3c3c"/>
<rect x="111.55" y="53.10" width="1.5" height="1.80" fill="#3c3c3c"/>
<rect x="138.85" y="577.65" width="1.5" height="1.80" fill="#3c3c3c"/>
<rect x="138.85" y="53.10" width="1.5" height="1.80" fill="#3c3c3c"/>
<rect x="166.15" y="577.65" width="1.5" height="1.80" fill="#3c3c3c"/>
<rect x="166.15" y="53.10" width="1.5" height="1.80" fill="#3c3c3c"/>
<rect x="193.45" y="576.55" width="1.5" height="2.90" fill="#3c3c3c"/>
<rect x="193.45" y="53.10" width="1.5" height="2.90" fill="#3c3c3c"/>
<rect x="220.75" y="577.65" width="1.5" height="1.80" fill="#3c3c3c"/>
<rect x="220.75" y="53.10" width="1.5" height="1.80" fill="#3c3c3c"/>
<rect x="248.05" y="577.65" width="1.5" height="1.80" fill="#3c3c3c"/>
<rect x="248.05" y="53.10" width="1.5" height="1.80" fill="#3c3c3c"/>
<rect x="275.35" y="577.65" width="1.5" height="1.80" fill="#3c3c3c"/>
<rect x="275.35" y="53.10" width="1.5" height="1.80" fill="#3c3c3c"/>
<rect x="302.65" y="576.55" width="1.5" height="2.90" fill="#3c3c3c"/>
<rect x="302.65" y="53.10" width="1.5" height="2.90" fill="#3c3c3c"/>
<rect x="329.95" y="577.65" width="1.5" height="1.80" fill="#3c3c3c"/>
<rect x="329.95" y="53.10" width="1.5" height="1.80" fill="#3c3c3c"/>
<rect x="357.25" y="577.65" width="1.5" height="1.80" fill="#3c3c3c"/>
<rect x="357.25" y="53.10" width="1.5" height="1.80" fill="#3c3c3c"/>
<rect x="384.55" y="577.65" width="1.5" height="1.80" fill="#3c3c3c"/>
<rect x="384.55" y="53.10" width="1.5" height="1.80" fill="#3c3c3c"/>
<rect x="411.85" y="576.55" width="1.5" height="2.90" fill="#3c3c3c"/>
<rect x="411.85" y="53.10" width="1.5" height="2.90" fill="#3c3c3c"/>
<rect x="439.15" y="577.65" width="1.5" height="1.80" fill="#3c3c3c"/>
<rect x="439.15" y="53.10" width="1.5" height="1.80" fill="#3c3c3c"/>
<rect x="466.45" y="577.65" width="1.5" height="1.80" fill="#3c3c3c"/>
<rect x="466.45" y="53.10" width="1.5" height="1.80" fill="#3c3c3c"/>
<rect x="493.75" y="577.65" width="1.5" height="1.80" fill="#3c3c3c"/>
<rect x="493.75" y="53.10" width="1.5" height="1.80" fill="#3c3c3c"/>
<rect x="521.05" y="576.55" width="1.5" height="2.90" fill="#3c3c3c"/>
<rect x="521.05" y="53.10" width="1.5" height="2.90" fill="#3c3c3c"/>
<rect x="548.35" y="577.65" width="1.5" height="1.80" fill="#3c3c3c"/>
<rect x="548.35" y="53.10" width="1.5" height="1.80" fill="#3c3c3c"/>
<rect x="575.65" y="577.65" width="1.5" height="1.80" fill="#3c3c3c"/>
<rect x="575.65" y="53.10" width="1.5" height="1.80" fill="#3c3c3c"/>
<rect x="602.95" y="577.65" width="1.5" height="1.80" fill="#3c3c3c"/>
<rect x="602.95" y="53.10" width="1.5" height="1.80" fill="#3c3c3c"/>
<rect x="630.25" y="576.55" width="1.5" height="2.90" fill="#3c3c3c"/>
<rect x="630.25" y="53.10" width="1.5" height="2.90" fill="#3c3c3c"/>
<rect x="73.60" y="576.62" width="1.60" height="1.8" fill="#3c3c3c"/>
<rect x="640.75" y="576.62" width="1.60" height="1.8" fill="#3c3c3c"/>
<rect x="73.60" y="552.90" width="2.40" height="1.8" fill="#3c3c3c"/>
<rect x="639.95" y="552.90" width="2.40" height="1.8" fill="#3c3c3c"/>
<rect x="73.60" y="529.18" width="1.60" height="1.8" fill="#3c3c3c"/>
<rect x="640.75" y="529.18" width="1.60" height="1.8" fill="#3c3c3c"/>
<rect x="73.60" y="505.47" width="1.60" height="1.8" fill="#3c3c3c"/>
<rect x="640.75" y="505.47" width="1.60" height="1.8" fill="#3c3c3c"/>
<rect x="73.60" y="481.75" width="1.60" height="1.8" fill="#3c3c3c"/>
<rect x="640.75" y="481.75" width="1.60" height="1.8" fill="#3c3c3c"/>
<rect x="73.60" y="458.04" width="2.40" height="1.8" fill="#3c3c3c"/>
<rect x="639.95" y="458.04" width="2.40" height="1.8" fill="#3c3c3c"/>
<rect x="73.60" y="434.32" width="1.60" height="1.8" fill="#3c3c3c"/>
<rect x="640.75" y="434.32" width="1.60" height="1.8" fill="#3c3c3c"/>
<rect x="73.60" y="410.61" width="1.60" height="1.8" fill="#3c3c3c"/>
<rect x="640.75" y="410.61" width="1.60" height="1.8" fill="#3c3c3c"/>
<rect x="73.60" y="386.89" width="1.60" height="1.8" fill="#3c3c3c"/>
<rect x="640.75" y="386.89" width="1.60" height="1.8" fill="#3c3c3c"/>
<rect x="73.60" y="363.18" width="2.40" height="1.8" fill="#3c3c3c"/>
<rect x="639.95" y="363.18" width="2.40" height="1.8" fill="#3c3c3c"/>
<rect x="73.60" y="339.46" width="1.60" height="1.8" fill="#3c3c3c"/>
<rect x="640.75" y="339.46" width="1.60" height="1.8" fill="#3c3c3c"/>
<rect x="73.60" y="315.75" width="1.60" height="1.8" fill="#3c3c3c"/>
<rect x="640.75" y="315.75" width="1.60" height="1.8" fill="#3c3c3c"/>
<rect x="73.60" y="292.03" width="1.60" height="1.8" fill="#3c3c3c"/>
<rect x="640.75" y="292.03" width="1.60" height="1.8" fill="#3c3c3c"/>
<rect x="73.60" y="268.32" width="2.40" height="1.8" fill="#3c3c3c"/>
<rect x="639.95" y="268.32" width="2.40" height="1.8" fill="#3c3c3c"/>
<rect x="73.60" y="244.60" width="1.60" height="1.8" fill="#3c3c3c"/>
<rect x="640.75" y="244.60" width="1.60" height="1.8" fill="#3c3c3c"/>
<rect x="73.60" y="220.89" width="1.60" height="1.8" fill="#3c3c3c"/>
<rect x="640.75" y="220.89" width="1.60" height="1.8" fill="#3c3c3c"/>
<rect x="73.60" y="197.17" width="1.60" height="1.8" fill="#3c3c3c"/>
<rect x="640.75" y="197.17" width="1.60" height="1.8" fill="#3c3c3c"/>
<rect x="73.60" y="173.46" width="2.40" height="1.8" fill="#3c3c3c"/>
<rect x="639.95" y="173.46" width="2.40" height="1.8" fill="#3c3c3c"/>
<rect x="73.60" y="149.74" width="1.60" height="1.8" fill="#3c3c3c"/>
<rect x="640.75" y="149.74" width="1.60" height="1.8" fill="#3c3c3c"/>
<rect x="73.60" y="126.03" width="1.60" height="1.8" fill="#3c3c3c"/>
<rect x="640.75" y="126.03" width="1.60" height="1.8" fill="#3c3c3c"/>
<rect x="73.60" y="102.31" width="1.60" height="1.8" fill="#3c3c3c"/>
<rect x="640.75" y="102.31" width="1.60" height="1.8" fill="#3c3c3c"/>
<rect x="73.60" y="78.60" width="2.40" height="1.8" fill="#3c3c3c"/>
<rect x="639.95" y="78.60" width="2.40" height="1.8" fill="#3c3c3c"/>
<rect x="73.60" y="54.88" width="1.60" height="1.8" fill="#3c3c3c"/>
<rect x="640.75" y="54.88" width="1.60" height="1.8" fill="#3c3c3c"/>
<text transform="translate(35.71,90.09) scale(0.22100,0.33879)" font-size="100" stroke="#000" stroke-width="2.0">1.0</text>
<text transform="translate(35.82,184.95) scale(0.22100,0.33879)" font-size="100" stroke="#000" stroke-width="2.0">0.8</text>
<text transform="translate(35.82,279.81) scale(0.22100,0.33879)" font-size="100" stroke="#000" stroke-width="2.0">0.6</text>
<text transform="translate(35.49,374.67) scale(0.22100,0.33879)" font-size="100" stroke="#000" stroke-width="2.0">0.4</text>
<text transform="translate(35.99,469.53) scale(0.22100,0.33879)" font-size="100" stroke="#000" stroke-width="2.0">0.2</text>
<text transform="translate(35.71,564.39) scale(0.22100,0.33879)" font-size="100" stroke="#000" stroke-width="2.0">0.0</text>
<text transform="translate(69.01,618.62) scale(0.22100,0.33879)" font-size="100" stroke="#000" stroke-width="2.0">0.0</text>
<text transform="translate(178.35,618.62) scale(0.22100,0.33879)" font-size="100" stroke="#000" stroke-width="2.0">0.2</text>
<text transform="translate(287.30,618.62) scale(0.22100,0.33879)" font-size="100" stroke="#000" stroke-width="2.0">0.4</text>
<text transform="translate(396.67,618.62) scale(0.22100,0.33879)" font-size="100" stroke="#000" stroke-width="2.0">0.6</text>
<text transform="translate(505.87,618.62) scale(0.22100,0.33879)" font-size="100" stroke="#000" stroke-width="2.0">0.8</text>
<text transform="translate(614.63,618.62) scale(0.22100,0.33879)" font-size="100" stroke="#000" stroke-width="2.0">1.0</text>
<text transform="translate(77.00,27.00) scale(0.26189,0.39439)" font-size="100" stroke="#000" stroke-width="0.6">ws</text>
<text transform="translate(115.99,26.70) scale(0.20772,0.34662)" font-size="100"><tspan x="3.25">=</tspan><tspan x="98.85">0</tspan><tspan x="159.11">.</tspan><tspan x="191.51">5</tspan><tspan x="251.76">,</tspan><tspan x="315.19">1</tspan><tspan x="375.31">.</tspan><tspan x="407.72">0</tspan><tspan x="467.96">,</tspan><tspan x="531.39">1</tspan><tspan x="591.51">.</tspan><tspan x="623.90">5</tspan><tspan x="684.16">,</tspan><tspan x="747.44">2</tspan><tspan x="807.71">.</tspan><tspan x="840.12">0</tspan><tspan x="900.36">,</tspan><tspan x="963.64">2</tspan><tspan x="1023.91">.</tspan><tspan x="1056.30">5</tspan><tspan x="1116.56">,</tspan><tspan x="1180.63">P</tspan><tspan x="1253.01">r</tspan><tspan x="1321.99">=</tspan><tspan x="1417.62">6</tspan><tspan x="1477.85">.</tspan><tspan x="1510.26">9</tspan><tspan x="1570.50">,</tspan><tspan x="1634.62">E</tspan><tspan x="1707.67">c</tspan><tspan x="1794.48">=</tspan><tspan x="1890.22">1</tspan><tspan x="1950.34">.</tspan><tspan x="1982.75">0</tspan><tspan x="2042.99">,</tspan><tspan x="2106.90">A</tspan><tspan x="2174.25">2</tspan><tspan x="2267.08">=</tspan><tspan x="2362.69">0</tspan><tspan x="2422.94">.</tspan><tspan x="2455.34">5</tspan></text>
<text transform="translate(677.89,562.13) rotate(-90) scale(0.30091,0.22200)" font-size="100" stroke="#000" stroke-width="1.3"><tspan x="5.42">w</tspan><tspan x="86.69">s</tspan><tspan x="176.78">=</tspan><tspan x="275.64">0</tspan><tspan x="337.49">.</tspan><tspan x="371.48">5</tspan><tspan x="466.07">r</tspan><tspan x="505.62">e</tspan><tspan x="569.73">p</tspan><tspan x="632.20">r</tspan><tspan x="671.75">e</tspan><tspan x="735.21">s</tspan><tspan x="793.14">e</tspan><tspan x="857.09">n</tspan><tspan x="918.98">t</tspan><tspan x="952.46">s</tspan><tspan x="1043.16">S</tspan><tspan x="1119.02">o</tspan><tspan x="1180.44">l</tspan><tspan x="1205.98">i</tspan><tspan x="1233.85">d</tspan><tspan x="1329.56">c</tspan><tspan x="1387.33">u</tspan><tspan x="1449.99">r</tspan><tspan x="1489.13">v</tspan><tspan x="1547.01">e</tspan></text>
<text transform="translate(22.40,351.00) rotate(-90) scale(0.40359,0.26500)" font-size="100">g(<tspan font-style="italic">&#951;</tspan>)</text>
<text transform="translate(351.00,673.70) scale(0.27000,0.41310)" font-size="100" font-style="italic">&#951;</text>
</svg>
</body></html>
